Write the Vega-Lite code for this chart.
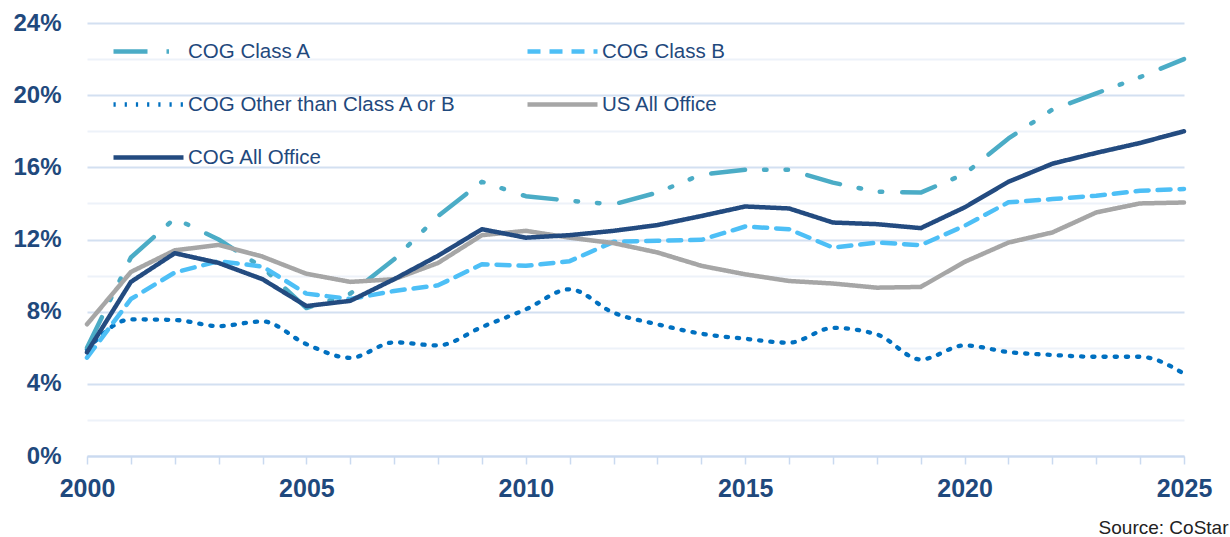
{
  "$schema": "https://vega.github.io/schema/vega-lite/v6.json",
  "width": 1097,
  "height": 433,
  "autosize": {"type": "none"},
  "padding": {"left": 87, "top": 23, "right": 46, "bottom": 81},
  "background": "white",
  "config": {
    "view": {"stroke": null},
    "legend": {
      "orient": "none",
      "direction": "horizontal",
      "legendX": 24,
      "legendY": -9,
      "columns": 2,
      "columnPadding": 61,
      "rowPadding": 5,
      "padding": 0,
      "symbolType": "stroke",
      "symbolSize": 4900,
      "symbolStrokeWidth": 4.5,
      "labelFont": "Liberation Sans",
      "labelFontSize": 20.5,
      "labelColor": "#1F497D",
      "labelOffset": 2,
      "labelLimit": 400
    }
  },
  "data": {"values": [
    {"year":2000,"series":"COG Class A","value":6.0},{"year":2000,"series":"COG Class B","value":5.45},{"year":2000,"series":"COG Other than Class A or B","value":5.9},{"year":2000,"series":"US All Office","value":7.3},{"year":2000,"series":"COG All Office","value":5.75},
    {"year":2001,"series":"COG Class A","value":11.0},{"year":2001,"series":"COG Class B","value":8.7},{"year":2001,"series":"COG Other than Class A or B","value":7.57},{"year":2001,"series":"US All Office","value":10.2},{"year":2001,"series":"COG All Office","value":9.65},
    {"year":2002,"series":"COG Class A","value":13.17},{"year":2002,"series":"COG Class B","value":10.17},{"year":2002,"series":"COG Other than Class A or B","value":7.54},{"year":2002,"series":"US All Office","value":11.4},{"year":2002,"series":"COG All Office","value":11.24},
    {"year":2003,"series":"COG Class A","value":12.0},{"year":2003,"series":"COG Class B","value":10.8},{"year":2003,"series":"COG Other than Class A or B","value":7.2},{"year":2003,"series":"US All Office","value":11.7},{"year":2003,"series":"COG All Office","value":10.7},
    {"year":2004,"series":"COG Class A","value":10.45},{"year":2004,"series":"COG Class B","value":10.5},{"year":2004,"series":"COG Other than Class A or B","value":7.46},{"year":2004,"series":"US All Office","value":11.05},{"year":2004,"series":"COG All Office","value":9.8},
    {"year":2005,"series":"COG Class A","value":8.2},{"year":2005,"series":"COG Class B","value":9.0},{"year":2005,"series":"COG Other than Class A or B","value":6.2},{"year":2005,"series":"US All Office","value":10.1},{"year":2005,"series":"COG All Office","value":8.31},
    {"year":2006,"series":"COG Class A","value":9.0},{"year":2006,"series":"COG Class B","value":8.7},{"year":2006,"series":"COG Other than Class A or B","value":5.44},{"year":2006,"series":"US All Office","value":9.65},{"year":2006,"series":"COG All Office","value":8.6},
    {"year":2007,"series":"COG Class A","value":10.9},{"year":2007,"series":"COG Class B","value":9.15},{"year":2007,"series":"COG Other than Class A or B","value":6.3},{"year":2007,"series":"US All Office","value":9.8},{"year":2007,"series":"COG All Office","value":9.8},
    {"year":2008,"series":"COG Class A","value":13.3},{"year":2008,"series":"COG Class B","value":9.46},{"year":2008,"series":"COG Other than Class A or B","value":6.13},{"year":2008,"series":"US All Office","value":10.7},{"year":2008,"series":"COG All Office","value":11.1},
    {"year":2009,"series":"COG Class A","value":15.2},{"year":2009,"series":"COG Class B","value":10.63},{"year":2009,"series":"COG Other than Class A or B","value":7.15},{"year":2009,"series":"US All Office","value":12.24},{"year":2009,"series":"COG All Office","value":12.57},
    {"year":2010,"series":"COG Class A","value":14.4},{"year":2010,"series":"COG Class B","value":10.54},{"year":2010,"series":"COG Other than Class A or B","value":8.13},{"year":2010,"series":"US All Office","value":12.48},{"year":2010,"series":"COG All Office","value":12.1},
    {"year":2011,"series":"COG Class A","value":14.15},{"year":2011,"series":"COG Class B","value":10.8},{"year":2011,"series":"COG Other than Class A or B","value":9.24},{"year":2011,"series":"US All Office","value":12.1},{"year":2011,"series":"COG All Office","value":12.24},
    {"year":2012,"series":"COG Class A","value":13.95},{"year":2012,"series":"COG Class B","value":11.87},{"year":2012,"series":"COG Other than Class A or B","value":7.94},{"year":2012,"series":"US All Office","value":11.8},{"year":2012,"series":"COG All Office","value":12.48},
    {"year":2013,"series":"COG Class A","value":14.6},{"year":2013,"series":"COG Class B","value":11.93},{"year":2013,"series":"COG Other than Class A or B","value":7.3},{"year":2013,"series":"US All Office","value":11.28},{"year":2013,"series":"COG All Office","value":12.8},
    {"year":2014,"series":"COG Class A","value":15.6},{"year":2014,"series":"COG Class B","value":11.98},{"year":2014,"series":"COG Other than Class A or B","value":6.78},{"year":2014,"series":"US All Office","value":10.54},{"year":2014,"series":"COG All Office","value":13.3},
    {"year":2015,"series":"COG Class A","value":15.87},{"year":2015,"series":"COG Class B","value":12.72},{"year":2015,"series":"COG Other than Class A or B","value":6.5},{"year":2015,"series":"US All Office","value":10.07},{"year":2015,"series":"COG All Office","value":13.83},
    {"year":2016,"series":"COG Class A","value":15.87},{"year":2016,"series":"COG Class B","value":12.57},{"year":2016,"series":"COG Other than Class A or B","value":6.28},{"year":2016,"series":"US All Office","value":9.7},{"year":2016,"series":"COG All Office","value":13.72},
    {"year":2017,"series":"COG Class A","value":15.15},{"year":2017,"series":"COG Class B","value":11.55},{"year":2017,"series":"COG Other than Class A or B","value":7.1},{"year":2017,"series":"US All Office","value":9.56},{"year":2017,"series":"COG All Office","value":12.94},
    {"year":2018,"series":"COG Class A","value":14.65},{"year":2018,"series":"COG Class B","value":11.83},{"year":2018,"series":"COG Other than Class A or B","value":6.74},{"year":2018,"series":"US All Office","value":9.33},{"year":2018,"series":"COG All Office","value":12.85},
    {"year":2019,"series":"COG Class A","value":14.6},{"year":2019,"series":"COG Class B","value":11.69},{"year":2019,"series":"COG Other than Class A or B","value":5.35},{"year":2019,"series":"US All Office","value":9.37},{"year":2019,"series":"COG All Office","value":12.63},
    {"year":2020,"series":"COG Class A","value":15.63},{"year":2020,"series":"COG Class B","value":12.76},{"year":2020,"series":"COG Other than Class A or B","value":6.13},{"year":2020,"series":"US All Office","value":10.76},{"year":2020,"series":"COG All Office","value":13.78},
    {"year":2021,"series":"COG Class A","value":17.6},{"year":2021,"series":"COG Class B","value":14.06},{"year":2021,"series":"COG Other than Class A or B","value":5.76},{"year":2021,"series":"US All Office","value":11.83},{"year":2021,"series":"COG All Office","value":15.2},
    {"year":2022,"series":"COG Class A","value":19.2},{"year":2022,"series":"COG Class B","value":14.24},{"year":2022,"series":"COG Other than Class A or B","value":5.6},{"year":2022,"series":"US All Office","value":12.39},{"year":2022,"series":"COG All Office","value":16.2},
    {"year":2023,"series":"COG Class A","value":20.1},{"year":2023,"series":"COG Class B","value":14.43},{"year":2023,"series":"COG Other than Class A or B","value":5.5},{"year":2023,"series":"US All Office","value":13.5},{"year":2023,"series":"COG All Office","value":16.8},
    {"year":2024,"series":"COG Class A","value":21.0},{"year":2024,"series":"COG Class B","value":14.7},{"year":2024,"series":"COG Other than Class A or B","value":5.5},{"year":2024,"series":"US All Office","value":14.0},{"year":2024,"series":"COG All Office","value":17.35},
    {"year":2025,"series":"COG Class A","value":22.0},{"year":2025,"series":"COG Class B","value":14.8},{"year":2025,"series":"COG Other than Class A or B","value":4.56},{"year":2025,"series":"US All Office","value":14.05},{"year":2025,"series":"COG All Office","value":18.0}
  ]},
  "encoding": {
    "x": {
      "field": "year", "type": "quantitative",
      "scale": {"domain": [2000, 2025], "nice": false, "zero": false},
      "axis": {
        "title": "Source: CoStar",
        "titleFont": "Liberation Sans", "titleFontSize": 19, "titleFontWeight": "normal", "titleColor": "#222222",
        "titleX": 1141, "titleY": 77, "titleAlign": "right", "titleBaseline": "alphabetic", "titleAnchor": null,
        "values": [2000,2001,2002,2003,2004,2005,2006,2007,2008,2009,2010,2011,2012,2013,2014,2015,2016,2017,2018,2019,2020,2021,2022,2023,2024,2025],
        "labelExpr": "datum.value % 5 === 0 ? '' + datum.value : ''",
        "labelFont": "Liberation Sans", "labelFontSize": 25, "labelFontWeight": "bold", "labelColor": "#1F497D",
        "labelPadding": 12, "labelFlush": false, "labelBound": false, "labelOverlap": false,
        "grid": false,
        "domainColor": "#CADAF0", "domainWidth": 2,
        "tickColor": "#CADAF0", "tickWidth": 1.5, "tickSize": 8
      }
    },
    "y": {
      "field": "value", "type": "quantitative",
      "scale": {"domain": [0, 24], "nice": false},
      "axis": {
        "title": null,
        "values": [0,2,4,6,8,10,12,14,16,18,20,22,24],
        "labelExpr": "datum.value % 4 === 0 ? datum.value + '%' : ''",
        "labelFont": "Liberation Sans", "labelFontSize": 24, "labelFontWeight": "bold", "labelColor": "#1F497D",
        "labelPadding": 26, "labelOverlap": false,
        "domain": false, "ticks": false,
        "grid": true, "gridWidth": 2,
        "gridColor": {"condition": {"test": "datum.value % 4 === 0", "value": "#D3E0F1"}, "value": "#EDF2F9"}
      }
    },
    "color": {
      "field": "series", "type": "nominal",
      "scale": {
        "domain": ["COG Class A", "COG Class B", "COG Other than Class A or B", "US All Office", "COG All Office"],
        "range": ["#4BACC6", "#4DBFF6", "#0070C0", "#A6A6A6", "#234B80"]
      },
      "legend": {"title": null}
    },
    "strokeDash": {
      "field": "series", "type": "nominal",
      "scale": {
        "domain": ["COG Class A", "COG Class B", "COG Other than Class A or B", "US All Office", "COG All Office"],
        "range": [[34, 19, 2.5, 19, 2.5, 20], [13, 9], [2.2, 9], [1, 0], [1, 0]]
      },
      "legend": {"title": null}
    }
  },
  "layer": [
    {
      "transform": [{"filter": "datum.series === 'COG Other than Class A or B'"}],
      "mark": {"type": "line", "strokeWidth": 4.3, "strokeCap": "round", "interpolate": "monotone"}
    },
    {
      "transform": [{"filter": "datum.series !== 'COG Other than Class A or B'"}],
      "mark": {"type": "line", "strokeWidth": 4.5, "strokeCap": "round", "strokeJoin": "round"}
    }
  ]
}
